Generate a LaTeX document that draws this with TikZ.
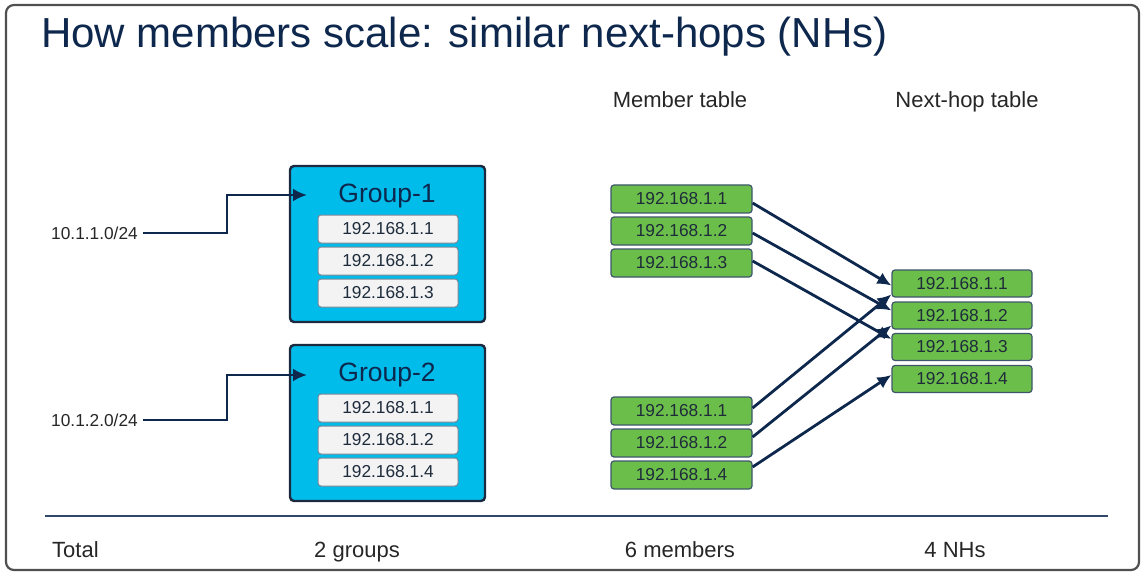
\documentclass[tikz,border=0pt]{standalone}
\usepackage{fontspec}
\setmainfont{Liberation Sans}
\usetikzlibrary{arrows.meta,calc}
\definecolor{navy}{HTML}{0D274D}
\definecolor{cyanfill}{HTML}{00BCEB}
\definecolor{grpedge}{HTML}{1B2A3E}
\definecolor{greenfill}{HTML}{6CBE4A}
\definecolor{greenedge}{HTML}{3E566C}
\definecolor{cellfill}{HTML}{F3F3F4}
\definecolor{celledge}{HTML}{7D8896}
\definecolor{ink}{HTML}{1E2B3B}
\definecolor{frame}{HTML}{505050}
\tikzset{
  groupbox/.style={draw=grpedge, line width=2.4pt, fill=cyanfill, rounded corners=4pt,
    minimum width=195pt, minimum height=156pt, inner sep=0pt},
  cell/.style={draw=celledge, line width=1pt, fill=cellfill, rounded corners=3pt,
    minimum width=140pt, minimum height=28pt, inner sep=0pt, text=ink, font=\fontsize{17.3}{19}\selectfont},
  member/.style={draw=greenedge, line width=1.2pt, fill=greenfill, rounded corners=3pt,
    minimum width=141pt, minimum height=28pt, inner sep=0pt, text=ink, font=\fontsize{17.3}{19}\selectfont},
  nexthop/.style={member, minimum width=140pt, minimum height=27pt},
  grouptitle/.style={text=navy, font=\fontsize{26.5}{30}\selectfont, inner sep=0pt},
  prefixlabel/.style={text=black!85, font=\fontsize{17.3}{19}\selectfont, inner sep=0pt},
  header/.style={text=black!85, font=\fontsize{22}{26}\selectfont, inner sep=0pt, anchor=base},
  link/.style={draw=navy, line width=2.8pt, -{Latex[length=14pt,width=13pt]}},
}
\begin{document}
\begin{tikzpicture}[x=1pt,y=-1pt]
\useasboundingbox (0,0) rectangle (1144,575);
% outer frame
\draw[frame, line width=2.2pt, rounded corners=8pt] (6,5) rectangle (1139,570);

% title
\node[anchor=base west, inner sep=0pt, text=navy, font=\fontsize{42}{46}\selectfont]
  (title) at (41,48) {How members scale: similar next-hops (NHs)};

% column headers
\node[header] (hmem) at (680,108) {Member table};
\node[header] (hnh) at (967,108) {Next-hop table};

% group 1
\node[groupbox] (g1) at (387.5,244) {};
\node[grouptitle] (g1t) at (387,196) {Group-1};
\node[cell] (g1a) at (388,229) {192.168.1.1};
\node[cell] (g1b) at (388,261) {192.168.1.2};
\node[cell] (g1c) at (388,293) {192.168.1.3};

% group 2
\node[groupbox] (g2) at (387.5,423) {};
\node[grouptitle] (g2t) at (387,375) {Group-2};
\node[cell] (g2a) at (388,408) {192.168.1.1};
\node[cell] (g2b) at (388,440) {192.168.1.2};
\node[cell] (g2c) at (388,472) {192.168.1.4};

% prefixes pointing at groups
\node[prefixlabel, anchor=east] (p1) at (138,233) {10.1.1.0/24};
\node[prefixlabel, anchor=east] (p2) at (138,420) {10.1.2.0/24};
\coordinate (g1in) at (307,195);
\coordinate (g2in) at (307,375);
\draw[link] ($(p1.east)+(5,0)$) -| (227,195) -- (g1in);
\draw[link] ($(p2.east)+(5,0)$) -| (227,375) -- (g2in);

% member table
\node[member] (m1) at (681.5,199) {192.168.1.1};
\node[member] (m2) at (681.5,231) {192.168.1.2};
\node[member] (m3) at (681.5,263) {192.168.1.3};
\node[member] (m4) at (681.5,411) {192.168.1.1};
\node[member] (m5) at (681.5,443) {192.168.1.2};
\node[member] (m6) at (681.5,475) {192.168.1.4};

% next-hop table
\node[nexthop] (n1) at (962,283.5) {192.168.1.1};
\node[nexthop] (n2) at (962,315.5) {192.168.1.2};
\node[nexthop] (n3) at (962,347) {192.168.1.3};
\node[nexthop] (n4) at (962,379) {192.168.1.4};

% members resolve to next-hops
\draw[link] ($(m1.east)+(0,4)$) -- ($(n1.west)+(0,2)$);
\draw[link] ($(m2.east)+(0,2)$) -- ($(n2.west)+(0,-5)$);
\draw[link] ($(m3.east)+(0,-2)$) -- ($(n3.west)+(0,-8)$);
\draw[link] ($(m4.east)+(0,-3)$) -- ($(n1.west)+(0,11)$);
\draw[link] ($(m5.east)+(0,-6)$) -- ($(n2.west)+(0,10)$);
\draw[link] ($(m6.east)+(0,-8)$) -- ($(n4.west)+(0,-4)$);

% totals
\draw[navy!85, line width=2.5pt] (45,516) -- (1108,516);
\node[header, anchor=base west] (tot) at (52,557) {Total};
\node[header] (tg) at (357,557) {2 groups};
\node[header] (tm) at (680,557) {6 members};
\node[header] (tn) at (955,557) {4 NHs};
\end{tikzpicture}
\end{document}
